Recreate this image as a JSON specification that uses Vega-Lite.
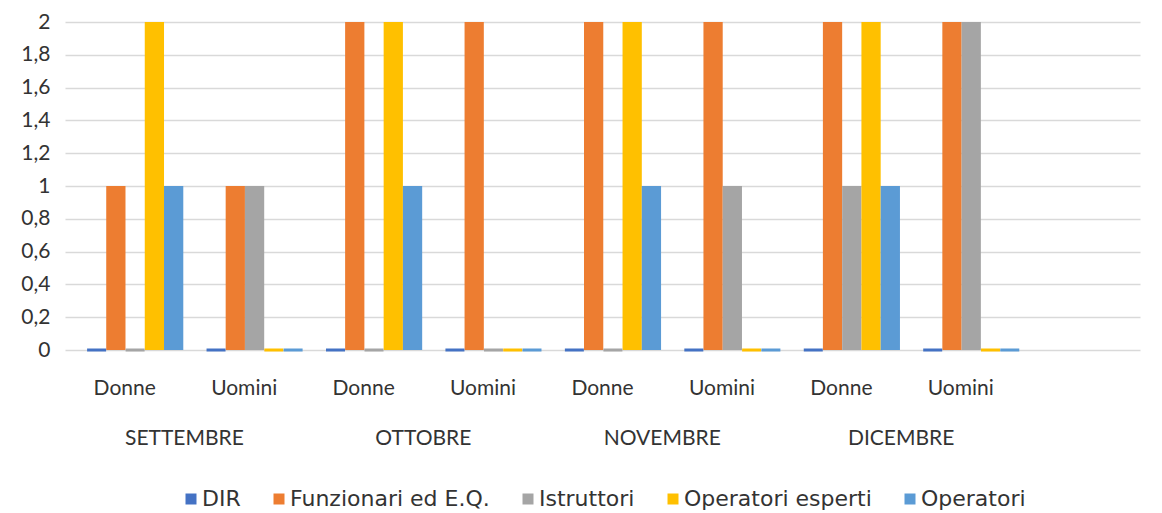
{
  "$schema": "https://vega.github.io/schema/vega-lite/v6.json",
  "width": 1075,
  "height": 328,
  "autosize": "none",
  "padding": {"left": 65, "top": 22, "right": 22, "bottom": 163},
  "background": "white",
  "config": {"view": {"stroke": null}, "font": "Lato"},
  "data": {"values": [
    {"mese": "SETTEMBRE", "sesso": "Donne", "cat": "SETTEMBRE Donne", "ruolo": "DIR", "valore": 0},
    {"mese": "SETTEMBRE", "sesso": "Donne", "cat": "SETTEMBRE Donne", "ruolo": "Funzionari ed E.Q.", "valore": 1},
    {"mese": "SETTEMBRE", "sesso": "Donne", "cat": "SETTEMBRE Donne", "ruolo": "Istruttori", "valore": 0},
    {"mese": "SETTEMBRE", "sesso": "Donne", "cat": "SETTEMBRE Donne", "ruolo": "Operatori esperti", "valore": 2},
    {"mese": "SETTEMBRE", "sesso": "Donne", "cat": "SETTEMBRE Donne", "ruolo": "Operatori", "valore": 1},
    {"mese": "SETTEMBRE", "sesso": "Uomini", "cat": "SETTEMBRE Uomini", "ruolo": "DIR", "valore": 0},
    {"mese": "SETTEMBRE", "sesso": "Uomini", "cat": "SETTEMBRE Uomini", "ruolo": "Funzionari ed E.Q.", "valore": 1},
    {"mese": "SETTEMBRE", "sesso": "Uomini", "cat": "SETTEMBRE Uomini", "ruolo": "Istruttori", "valore": 1},
    {"mese": "SETTEMBRE", "sesso": "Uomini", "cat": "SETTEMBRE Uomini", "ruolo": "Operatori esperti", "valore": 0},
    {"mese": "SETTEMBRE", "sesso": "Uomini", "cat": "SETTEMBRE Uomini", "ruolo": "Operatori", "valore": 0},
    {"mese": "OTTOBRE", "sesso": "Donne", "cat": "OTTOBRE Donne", "ruolo": "DIR", "valore": 0},
    {"mese": "OTTOBRE", "sesso": "Donne", "cat": "OTTOBRE Donne", "ruolo": "Funzionari ed E.Q.", "valore": 2},
    {"mese": "OTTOBRE", "sesso": "Donne", "cat": "OTTOBRE Donne", "ruolo": "Istruttori", "valore": 0},
    {"mese": "OTTOBRE", "sesso": "Donne", "cat": "OTTOBRE Donne", "ruolo": "Operatori esperti", "valore": 2},
    {"mese": "OTTOBRE", "sesso": "Donne", "cat": "OTTOBRE Donne", "ruolo": "Operatori", "valore": 1},
    {"mese": "OTTOBRE", "sesso": "Uomini", "cat": "OTTOBRE Uomini", "ruolo": "DIR", "valore": 0},
    {"mese": "OTTOBRE", "sesso": "Uomini", "cat": "OTTOBRE Uomini", "ruolo": "Funzionari ed E.Q.", "valore": 2},
    {"mese": "OTTOBRE", "sesso": "Uomini", "cat": "OTTOBRE Uomini", "ruolo": "Istruttori", "valore": 0},
    {"mese": "OTTOBRE", "sesso": "Uomini", "cat": "OTTOBRE Uomini", "ruolo": "Operatori esperti", "valore": 0},
    {"mese": "OTTOBRE", "sesso": "Uomini", "cat": "OTTOBRE Uomini", "ruolo": "Operatori", "valore": 0},
    {"mese": "NOVEMBRE", "sesso": "Donne", "cat": "NOVEMBRE Donne", "ruolo": "DIR", "valore": 0},
    {"mese": "NOVEMBRE", "sesso": "Donne", "cat": "NOVEMBRE Donne", "ruolo": "Funzionari ed E.Q.", "valore": 2},
    {"mese": "NOVEMBRE", "sesso": "Donne", "cat": "NOVEMBRE Donne", "ruolo": "Istruttori", "valore": 0},
    {"mese": "NOVEMBRE", "sesso": "Donne", "cat": "NOVEMBRE Donne", "ruolo": "Operatori esperti", "valore": 2},
    {"mese": "NOVEMBRE", "sesso": "Donne", "cat": "NOVEMBRE Donne", "ruolo": "Operatori", "valore": 1},
    {"mese": "NOVEMBRE", "sesso": "Uomini", "cat": "NOVEMBRE Uomini", "ruolo": "DIR", "valore": 0},
    {"mese": "NOVEMBRE", "sesso": "Uomini", "cat": "NOVEMBRE Uomini", "ruolo": "Funzionari ed E.Q.", "valore": 2},
    {"mese": "NOVEMBRE", "sesso": "Uomini", "cat": "NOVEMBRE Uomini", "ruolo": "Istruttori", "valore": 1},
    {"mese": "NOVEMBRE", "sesso": "Uomini", "cat": "NOVEMBRE Uomini", "ruolo": "Operatori esperti", "valore": 0},
    {"mese": "NOVEMBRE", "sesso": "Uomini", "cat": "NOVEMBRE Uomini", "ruolo": "Operatori", "valore": 0},
    {"mese": "DICEMBRE", "sesso": "Donne", "cat": "DICEMBRE Donne", "ruolo": "DIR", "valore": 0},
    {"mese": "DICEMBRE", "sesso": "Donne", "cat": "DICEMBRE Donne", "ruolo": "Funzionari ed E.Q.", "valore": 2},
    {"mese": "DICEMBRE", "sesso": "Donne", "cat": "DICEMBRE Donne", "ruolo": "Istruttori", "valore": 1},
    {"mese": "DICEMBRE", "sesso": "Donne", "cat": "DICEMBRE Donne", "ruolo": "Operatori esperti", "valore": 2},
    {"mese": "DICEMBRE", "sesso": "Donne", "cat": "DICEMBRE Donne", "ruolo": "Operatori", "valore": 1},
    {"mese": "DICEMBRE", "sesso": "Uomini", "cat": "DICEMBRE Uomini", "ruolo": "DIR", "valore": 0},
    {"mese": "DICEMBRE", "sesso": "Uomini", "cat": "DICEMBRE Uomini", "ruolo": "Funzionari ed E.Q.", "valore": 2},
    {"mese": "DICEMBRE", "sesso": "Uomini", "cat": "DICEMBRE Uomini", "ruolo": "Istruttori", "valore": 2},
    {"mese": "DICEMBRE", "sesso": "Uomini", "cat": "DICEMBRE Uomini", "ruolo": "Operatori esperti", "valore": 0},
    {"mese": "DICEMBRE", "sesso": "Uomini", "cat": "DICEMBRE Uomini", "ruolo": "Operatori", "valore": 0}
  ]},
  "layer": [
    {
      "encoding": {
        "x": {
          "field": "cat", "type": "nominal", "sort": null,
          "scale": {"domain": ["SETTEMBRE Donne", "SETTEMBRE Uomini", "OTTOBRE Donne", "OTTOBRE Uomini", "NOVEMBRE Donne", "NOVEMBRE Uomini", "DICEMBRE Donne", "DICEMBRE Uomini", " "], "paddingInner": 0, "paddingOuter": 0},
          "axis": {"orient": "bottom", "title": null, "domain": false, "ticks": false, "labelAngle": 0, "labelPadding": 27, "labelFontSize": 21, "labelColor": "#333333", "labelExpr": "split(datum.value, ' ')[1]"}
        },
        "xOffset": {
          "field": "ruolo", "type": "nominal",
          "sort": ["DIR", "Funzionari ed E.Q.", "Istruttori", "Operatori esperti", "Operatori"],
          "scale": {"domain": ["DIR", "Funzionari ed E.Q.", "Istruttori", "Operatori esperti", "Operatori"], "paddingInner": 0, "paddingOuter": 0.6, "align": 0.95}
        },
        "y": {
          "field": "valore", "type": "quantitative",
          "scale": {"domain": [0, 2]},
          "axis": {"title": null, "values": [0, 0.2, 0.4, 0.6, 0.8, 1, 1.2, 1.4, 1.6, 1.8, 2], "domain": false, "ticks": false, "labelFontSize": 21, "labelColor": "#333333", "labelPadding": 15, "gridColor": "#D9D9D9", "gridWidth": 1.5, "labelExpr": "replace(format(datum.value, '~g'), '.', ',')"}
        },
        "color": {
          "field": "ruolo", "type": "nominal",
          "scale": {"domain": ["DIR", "Funzionari ed E.Q.", "Istruttori", "Operatori esperti", "Operatori"], "range": ["#4472C4", "#ED7D31", "#A5A5A5", "#FFC000", "#5B9BD5"]},
          "legend": {"title": null, "orient": "none", "direction": "horizontal", "legendX": 115, "legendY": 466, "symbolType": "square", "symbolSize": 121, "symbolStrokeWidth": 0, "symbolOpacity": 1, "labelFont": "DejaVu Sans", "labelFontSize": 22, "labelLimit": 400, "labelColor": "#333333", "labelOffset": 0, "columnPadding": 27}
        }
      },
      "layer": [
        {"mark": {"type": "bar", "opacity": 1}},
        {
          "transform": [{"filter": "datum.valore == 0"}],
          "mark": {"type": "tick", "thickness": 3, "size": 19, "opacity": 1}
        }
      ]
    },
    {
      "mark": {"type": "tick", "opacity": 0},
      "encoding": {
        "x": {
          "field": "mese", "type": "nominal", "sort": null,
          "scale": {"domain": ["SETTEMBRE", "OTTOBRE", "NOVEMBRE", "DICEMBRE"], "paddingInner": 0, "paddingOuter": 0.25, "align": 0},
          "axis": {"orient": "bottom", "title": null, "domain": false, "ticks": false, "grid": false, "labelAngle": 0, "labelPadding": 77, "labelFontSize": 21, "labelColor": "#333333"}
        }
      }
    }
  ],
  "resolve": {"scale": {"x": "independent"}, "axis": {"x": "independent"}}
}
